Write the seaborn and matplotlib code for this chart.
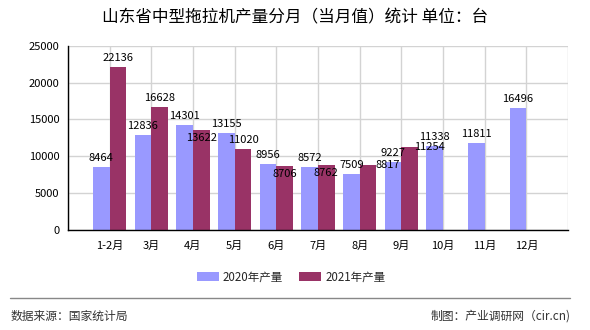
import numpy as np
import pandas as pd
import matplotlib
matplotlib.use("Agg")
import matplotlib.pyplot as plt
from matplotlib.patches import Patch
from matplotlib.lines import Line2D
import seaborn as sns

# ---- data ----
months = ["1-2月", "3月", "4月", "5月", "6月", "7月", "8月", "9月", "10月", "11月", "12月"]
prod_2020 = [8464, 12836, 14301, 13155, 8956, 8572, 7509, 9227, 11338, 11811, 16496]
prod_2021 = [22136, 16628, 13622, 11020, 8706, 8762, 8817, 11254, np.nan, np.nan, np.nan]
series_names = ["2020年产量", "2021年产量"]
yticks = [0, 5000, 10000, 15000, 20000, 25000]

title = "山东省中型拖拉机产量分月（当月值）统计 单位：台"
source_text = "数据来源：国家统计局"
maker_text = "制图：产业调研网（cir.cn)"

colors = ["#9999ff", "#993366"]

# label placement styles for 2021 series (index -> style)
label_style_2021 = {2: "inside", 4: "inside", 5: "inside", 6: "shift", 7: "shift"}

df = pd.DataFrame({
    "month": months * 2,
    "series": [series_names[0]] * len(months) + [series_names[1]] * len(months),
    "value": prod_2020 + prod_2021,
})

sns.set_style("white")
plt.rcParams["font.family"] = ["Noto Sans CJK SC", "DejaVu Sans"]

fig = plt.figure(figsize=(5.9, 3.3), dpi=100)
ax = fig.add_axes([68 / 590, 1 - 229.5 / 330, 500 / 590, (229.5 - 46) / 330])

sns.barplot(data=df, x="month", y="value", hue="series", order=months,
            hue_order=series_names, palette=colors, width=0.8, dodge=True,
            saturation=1, legend=False, ax=ax, zorder=3,
            edgecolor="none", linewidth=0)

ax.set_xlim(-1, len(months))
ax.set_ylim(0, 25000)
ax.set_yticks(yticks)
ax.set_yticklabels([str(v) for v in yticks])
xt = list(range(-1, len(months) + 1))
ax.set_xticks(xt)
ax.set_xticklabels([""] + months + [""])
ax.set_xlabel("")
ax.set_ylabel("")

ax.grid(True, color="#d3d3d3", linewidth=1, zorder=0)
ax.set_axisbelow(True)
for s in ["top", "right"]:
    ax.spines[s].set_visible(False)
for s in ["left", "bottom"]:
    ax.spines[s].set_color("black")
    ax.spines[s].set_linewidth(1)
    ax.spines[s].set_zorder(5)
ax.tick_params(axis="both", direction="out", length=4, width=1, color="black",
               labelsize=8, labelcolor="black", pad=2)
ax.tick_params(axis="x", pad=4)

# value labels
lab_fs = 8
for i, v in enumerate(prod_2020):
    ax.annotate(str(v), (i - 0.2, v), xytext=(0, 6), textcoords="offset pixels",
                ha="center", va="baseline", fontsize=lab_fs, color="black", zorder=6)
for i, v in enumerate(prod_2021):
    if np.isnan(v):
        continue
    style = label_style_2021.get(i, "above")
    if style == "above":
        ax.annotate(str(int(v)), (i + 0.2, v), xytext=(0, 6), textcoords="offset pixels",
                    ha="center", va="baseline", fontsize=lab_fs, color="black", zorder=6)
    elif style == "inside":
        ax.annotate(str(int(v)), (i + 0.2, v), xytext=(0, -3), textcoords="offset pixels",
                    ha="center", va="top", fontsize=lab_fs, color="black", zorder=6)
    else:
        ax.annotate(str(int(v)), (i + 0.2, v), xytext=(20, 0), textcoords="offset pixels",
                    ha="center", va="center", fontsize=lab_fs, color="black", zorder=6)

# title
fig.text(0.5, 1 - 18 / 330, title, ha="center", va="center", fontsize=12, color="black")

# legend
handles = [Patch(facecolor=c, edgecolor="none") for c in colors]
fig.legend(handles, series_names, loc="center", bbox_to_anchor=(291 / 590, 1 - 277 / 330),
           ncol=2, frameon=False, fontsize=8.3, handlelength=1.9, handleheight=0.7,
           handletextpad=0.35, columnspacing=1.4)

# footer
fig.add_artist(Line2D([10 / 590, 570 / 590], [1 - 297.5 / 330, 1 - 297.5 / 330],
                      transform=fig.transFigure, color="#888888", linewidth=1))
fig.text(11 / 590, 1 - 316.5 / 330, source_text, ha="left", va="center", fontsize=8.5, color="#333333")
fig.text(571 / 590, 1 - 316.5 / 330, maker_text, ha="right", va="center", fontsize=8.5, color="#333333")

fig.savefig("out.png", dpi=100)
